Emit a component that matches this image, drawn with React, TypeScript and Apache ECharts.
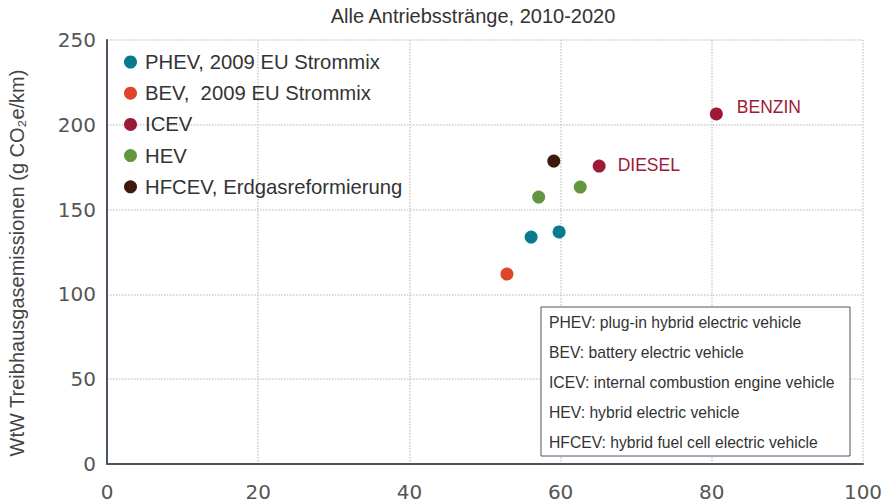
import React, { useEffect, useRef } from "react";
import * as echarts from "echarts";

const titleText = "Alle Antriebsstränge, 2010-2020";
const yAxisName = "WtW Treibhausgasemissionen (g CO₂e/km)";
const xTicks = [0, 20, 40, 60, 80, 100];
const yTicks = [0, 50, 100, 150, 200, 250];

const seriesNames = [
  "PHEV, 2009 EU Strommix",
  "BEV,  2009 EU Strommix",
  "ICEV",
  "HEV",
  "HFCEV, Erdgasreformierung",
];
const seriesColors = ["#087a8e", "#dc4528", "#9c1a36", "#639640", "#3d1a0d"];

const phevPoints: [number, number][] = [
  [56.1, 133.8],
  [59.8, 136.8],
];
const bevPoints: [number, number][] = [[52.9, 112]];
const icevPoints: [number, number][] = [
  [80.6, 206.4],
  [65.1, 175.7],
];
const icevLabels = ["BENZIN", "DIESEL"];
const hevPoints: [number, number][] = [
  [57.1, 157.4],
  [62.6, 163.3],
];
const hfcevPoints: [number, number][] = [[59.1, 178.6]];

const definitions = [
  "PHEV: plug-in hybrid electric vehicle",
  "BEV: battery electric vehicle",
  "ICEV: internal combustion engine vehicle",
  "HEV: hybrid electric vehicle",
  "HFCEV: hybrid fuel cell electric vehicle",
];

export default function App() {
  const ref = useRef<HTMLDivElement>(null);

  useEffect(() => {
    if (!ref.current) return;
    const chart = echarts.init(ref.current, null, { renderer: "svg" });
    const allData = [phevPoints, bevPoints, icevPoints, hevPoints, hfcevPoints];
    const labelTweaks = [
      { distance: 14, offset: [0, -7] },
      { distance: 12, offset: [0, -1] },
    ];

    const series: any[] = seriesNames.map((name, i) => ({
      name,
      type: "scatter",
      symbol: "circle",
      symbolSize: 13,
      itemStyle: { color: seriesColors[i], opacity: 1 },
      data:
        i === 2
          ? allData[i].map((p, j) => ({
              value: p,
              name: icevLabels[j],
              label: { distance: labelTweaks[j].distance, offset: labelTweaks[j].offset },
            }))
          : allData[i],
      label:
        i === 2
          ? {
              show: true,
              position: "right",
              formatter: (p: any) => p.name,
              color: "#9c1a36",
              fontSize: 17.5,
              fontFamily: "Liberation Sans",
            }
          : { show: false },
      z: 3,
    }));

    const lineH = 30;
    const boxX = 541;
    const boxY = 307;
    const graphicEls: any[] = [
      {
        type: "rect",
        shape: { x: boxX, y: boxY, width: 309, height: 149 },
        style: { fill: "#ffffff", stroke: "#4a5663", lineWidth: 1 },
        z: 10,
      },
      ...definitions.map((t, i) => ({
        type: "text",
        x: boxX + 8,
        y: boxY + 15 + i * lineH,
        style: {
          text: t,
          fill: "#333333",
          fontSize: 15.7,
          fontFamily: "Liberation Sans",
          verticalAlign: "middle",
        },
        z: 11,
      })),
    ];

    chart.setOption({
      animation: false,
      title: {
        text: titleText,
        left: 468,
        top: 1,
        textAlign: "center",
        textStyle: {
          fontSize: 20,
          fontWeight: "normal",
          color: "#333333",
          fontFamily: "Liberation Sans",
        },
      },
      legend: {
        orient: "vertical",
        left: 124,
        top: 52,
        padding: 0,
        itemWidth: 13,
        itemHeight: 13,
        itemGap: 11.2,
        icon: "circle",
        data: seriesNames,
        textStyle: {
          fontSize: 20.3,
          lineHeight: 20,
          color: "#333333",
          fontFamily: "Liberation Sans",
          padding: [0, 0, 0, 3],
        },
      },
      grid: {
        left: 107,
        right: 18,
        top: 40,
        bottom: 39,
        containLabel: false,
        outerBoundsMode: "none",
      },
      xAxis: {
        type: "value",
        min: xTicks[0],
        max: xTicks[xTicks.length - 1],
        interval: 20,
        axisLine: { show: true, onZero: false, lineStyle: { color: "#4a5663", width: 2 } },
        axisTick: { show: false },
        axisLabel: {
          margin: 18,
          fontSize: 20,
          color: "#555555",
          fontFamily: "DejaVu Sans",
        },
        splitLine: { show: true, lineStyle: { type: "dotted", color: "#cccccc", width: 1.5 } },
      },
      yAxis: {
        type: "value",
        min: yTicks[0],
        max: yTicks[yTicks.length - 1],
        interval: 50,
        name: yAxisName,
        nameLocation: "middle",
        nameGap: 80,
        nameTextStyle: {
          fontSize: 20,
          color: "#444444",
          fontFamily: "Liberation Sans",
          padding: [0, 22, 0, 0],
        },
        axisLine: { show: true, onZero: false, lineStyle: { color: "#4a5663", width: 2 } },
        axisTick: { show: false },
        axisLabel: {
          margin: 11,
          fontSize: 20,
          color: "#555555",
          fontFamily: "DejaVu Sans",
        },
        splitLine: { show: true, lineStyle: { type: "dotted", color: "#cccccc", width: 1.5 } },
      },
      series,
      graphic: graphicEls,
    });

    return () => chart.dispose();
  }, []);

  return <div ref={ref} style={{ width: 881, height: 503, position: "absolute", left: 0, top: 0 }} />;
}
